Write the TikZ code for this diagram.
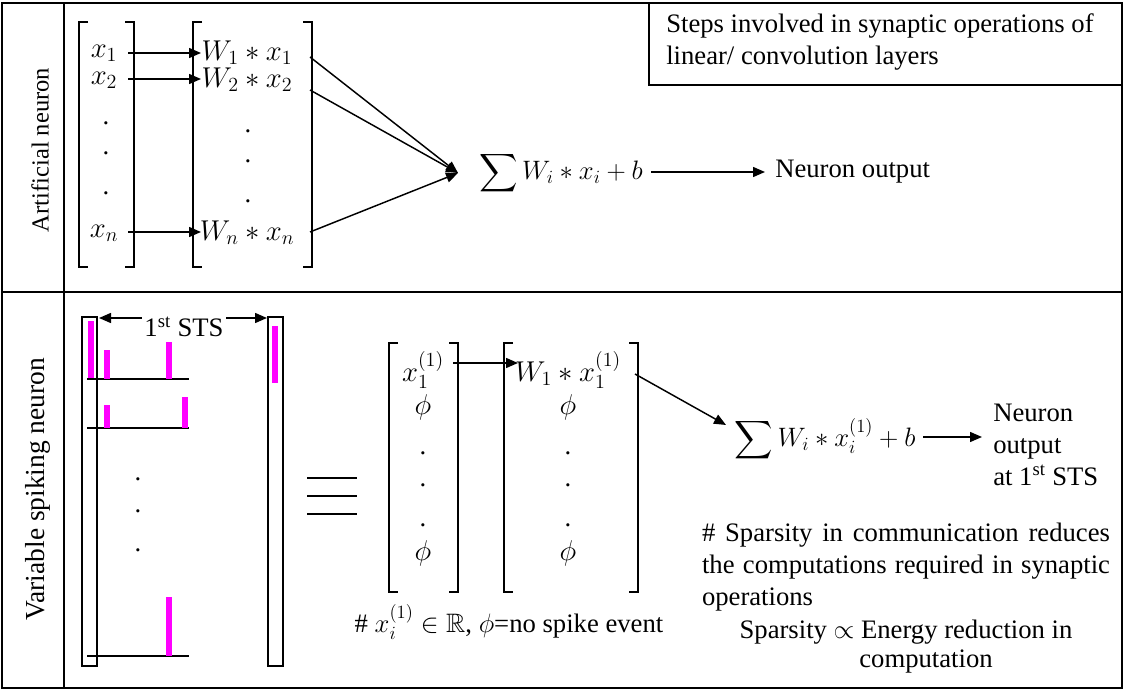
\RequirePackage{fix-cm}
\documentclass[tikz,border=0pt]{standalone}
\usepackage{amssymb}
\usepackage{fontspec}
\setmainfont{Liberation Serif}
\usetikzlibrary{arrows.meta}
\definecolor{spk}{RGB}{255,0,255}
\begin{document}
\begin{tikzpicture}[x=0.75pt,y=-0.75pt,
  every node/.style={font=\fontsize{20}{24}\selectfont, inner sep=0pt},
  mth/.style={font=\fontsize{21.5}{24}\selectfont},
  summ/.style={font=\fontsize{20}{24}\selectfont},
  frame/.style={line width=1.5pt},
  brk/.style={line width=1.6pt},
  thin/.style={line width=1.1pt},
  arr/.style={line width=1.1pt,-{Triangle[length=9pt,width=7.5pt]}},
  darr/.style={line width=1.1pt,{Triangle[length=9pt,width=7.5pt]}-{Triangle[length=9pt,width=7.5pt]}},
  spike/.style={fill=spk, draw=none}]
\useasboundingbox (0,0) rectangle (1124,691);
% frame
\draw[frame] (2,3) rectangle (1122,688);
\draw[frame] (64,3) -- (64,688);
\draw[frame] (2,292) -- (1122,292);
\draw[frame] (649,3) rectangle (1122,85);
\node[anchor=north west, align=left] (desc) at (666,13) {Steps involved in synaptic operations of\\linear/ convolution layers};
% row labels
\node[rotate=90, font=\fontsize{18.4}{24}\selectfont] (lab1) at (40,150) {Artificial neuron};
\node[rotate=90, font=\fontsize{20.6}{24}\selectfont] (lab2) at (38,489) {Variable spiking neuron};

% ---------- Row 1 ----------
\draw[brk] (88,22) -- (79,22) -- (79,267) -- (88,267);
\draw[brk] (125,22) -- (134,22) -- (134,267) -- (125,267);
\draw[brk] (202,22) -- (193,22) -- (193,267) -- (202,267);
\draw[brk] (303,22) -- (312,22) -- (312,267) -- (303,267);

\node[mth] (x1) at (104,53) {$x_1$};
\node[mth] (x2) at (104,80) {$x_2$};
\node (xd1) at (106,123) {.};
\node (xd2) at (106,153) {.};
\node (xd3) at (106,193) {.};
\node[mth] (xn) at (104,233) {$x_n$};

\node[mth] (w1) at (247,53) {$W_1 * x_1$};
\node[mth] (w2) at (247,80) {$W_2 * x_2$};
\node (wd1) at (248,131) {.};
\node (wd2) at (248,161) {.};
\node (wd3) at (248,201) {.};
\node[mth] (wn) at (247,233) {$W_n * x_n$};

\coordinate (a1s) at (128,53); \coordinate (a1e) at (201,53);
\coordinate (a2s) at (128,79); \coordinate (a2e) at (201,79);
\coordinate (ans) at (128,232); \coordinate (ane) at (201,232);
\draw[arr] (a1s) -- (a1e);
\draw[arr] (a2s) -- (a2e);
\draw[arr] (ans) -- (ane);

\coordinate (c1) at (310,57);
\coordinate (c2) at (310,90);
\coordinate (cn) at (310,232);
\coordinate (tip1) at (458,173);
\draw[arr] (c1) -- (tip1);
\draw[arr] (c2) -- (tip1);
\draw[arr] (cn) -- (tip1);

\node[summ] (sum1) at (561,173) {$\displaystyle\sum W_i * x_i + b$};
\coordinate (o1s) at (651,172); \coordinate (o1e) at (765,172);
\draw[arr] (o1s) -- (o1e);
\node[anchor=west] (out1) at (775,172) {Neuron output};

% ---------- Row 2 ----------
\draw[thin] (82,317) rectangle (97,666);
\draw[thin] (268,317) rectangle (283,666);
\fill[spike] (88,321) rectangle (94,379);
\fill[spike] (272,326) rectangle (278,383);
% spike trains
\draw[thin] (87,379) -- (189,379);
\draw[thin] (87,428) -- (189,428);
\draw[thin] (87,656) -- (189,656);
\fill[spike] (104,350) rectangle (110,379);
\fill[spike] (166,342) rectangle (172,379);
\fill[spike] (104,405) rectangle (110,428);
\fill[spike] (182,397) rectangle (188,428);
\fill[spike] (166,597) rectangle (172,656);
\node (sd1) at (138,479) {.};
\node (sd2) at (138,511) {.};
\node (sd3) at (138,550) {.};
% STS arrow
\coordinate (stsl) at (99,318); \coordinate (stsr) at (267,318);
\draw[darr] (stsl) -- (stsr);
\node[fill=white, inner xsep=2pt, inner ysep=1pt] (sts) at (184,327) {1\textsuperscript{st} STS};

% equivalence
\draw[line width=1.6pt] (307,478) -- (357,478);
\draw[line width=1.6pt] (307,496) -- (357,496);
\draw[line width=1.6pt] (307,514) -- (357,514);

\draw[brk] (398,343) -- (389,343) -- (389,592) -- (398,592);
\draw[brk] (449,343) -- (458,343) -- (458,592) -- (449,592);
\draw[brk] (513,343) -- (504,343) -- (504,592) -- (513,592);
\draw[brk] (629,343) -- (638,343) -- (638,592) -- (629,592);

\node[mth] (y1) at (423,370) {$x_1^{(1)}$};
\node[mth] (yp1) at (423,407) {$\phi$};
\node (yd1) at (423,453) {.};
\node (yd2) at (423,485) {.};
\node (yd3) at (423,525) {.};
\node[mth] (yp2) at (423,553) {$\phi$};

\node[mth] (v1) at (568,370) {$W_1 * x_1^{(1)}$};
\node[mth] (vp1) at (568,407) {$\phi$};
\node (vd1) at (568,453) {.};
\node (vd2) at (568,485) {.};
\node (vd3) at (568,525) {.};
\node[mth] (vp2) at (568,553) {$\phi$};

\coordinate (b1s) at (453,363); \coordinate (b1e) at (518,363);
\draw[arr] (b1s) -- (b1e);
\coordinate (d1) at (635,374); \coordinate (tip2) at (726,425);
\draw[arr] (d1) -- (tip2);

\node[summ] (sum2) at (825,440) {$\displaystyle\sum W_i * x_i^{(1)} + b$};
\coordinate (o2s) at (923,437); \coordinate (o2e) at (982,437);
\draw[arr] (o2s) -- (o2e);
\node[anchor=west, align=left] (out2) at (993,445) {Neuron\\output\\at 1\textsuperscript{st} STS};

\node (cap) at (509,622) {\# $x_i^{(1)}\in\mathbb{R}$, $\phi$=no spike event};

\node[align=left] (note) at (906,567) {\makebox[306pt][s]{\# Sparsity in communication reduces}\\\makebox[306pt][s]{the computations required in synaptic}\\\makebox[306pt][l]{operations}};
\node (prop) at (906,632) {Sparsity $\propto$ Energy reduction in};
\node (comp) at (926,662) {computation};
\end{tikzpicture}
\end{document}
